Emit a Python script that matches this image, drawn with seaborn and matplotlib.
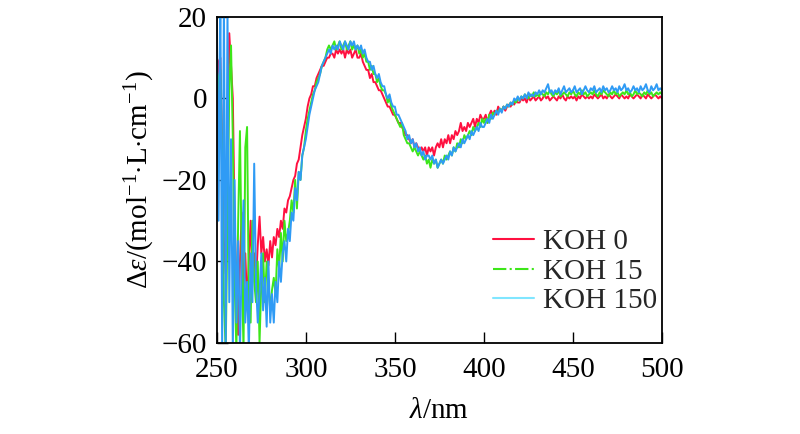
import numpy as np
import pandas as pd
import matplotlib
matplotlib.use("Agg")
import matplotlib.pyplot as plt
from matplotlib.lines import Line2D
import seaborn as sns

wavelength = list(range(250, 501))

koh_0 = [
    -5, 9, 10, -10, -35, -43, -24, 16, 8, 0,
    -30, -45, -58, -40, -28, -48, -38, -50, -40, -30,
    -42, -38, -45, -36, -29, -38, -34, -40, -37, -41,
    -35, -39, -34, -36, -32, -34, -30, -32, -27, -28,
    -25, -24, -22, -20, -19, -16, -15, -12, -9, -7,
    -5, -2, 0, 1, 3, 3, 5, 6, 7, 8,
    8, 9, 10, 10, 11, 11, 10, 12, 11, 12,
    11, 12, 10, 12, 11, 12, 10, 11, 12, 10,
    10, 11, 9, 8, 7, 7, 5, 6, 4, 4,
    3, 2, 2, 1, 0, -1, -2, -2, -3, -4,
    -4, -5, -6, -6, -7, -8, -9, -9, -10, -11,
    -10, -12, -11, -12, -13, -12, -13, -12, -14, -12,
    -13, -12, -14, -12, -11, -12, -10, -12, -10, -11,
    -9, -11, -9, -10, -8, -9, -8, -6, -8, -7,
    -8, -6, -7, -6, -5, -7, -5, -6, -4, -5,
    -5, -4, -6, -4, -3, -4, -3, -4, -2, -3,
    -3, -2, -3, -2, -1.5, -2, -1, -1.5, -0.5, -1,
    -1, 0, -0.5, 0, -1, 0.5, -0.5, 0, 0.5, -0.5,
    0, 0.5, -0.5, 0, 1, 0, 0.5, -0.5, 0, 0.5,
    0, -0.5, 0.5, 0, 1, 0, -0.5, 0.5, 0, 0.5,
    0, 0.5, -0.5, 0.5, 0, 1, 0.5, 0, 0.5, 0,
    0.5, 0, 1, 0.5, 0, 0.5, 1, 0, 0.5, 0,
    1, 0.5, 0, 0.5, 1, 0.5, 0, 1, 0.5, 0,
    0.5, 0, 1, 0.5, 0, 0.5, 1, 0.5, 0, 1,
    0.5, 0, 1, 0.5, 0, 0.5, 1, 0.5, 0, 0.5,
    0,
]

koh_15 = [
    -20, 5, 7, -15, -50, -62, -30, 2, 13, -10,
    -45, -62, -30, -8, -40, -62, -12, -7, -50, -55,
    -30, -45, -50, -40, -60, -45, -38, -50, -40, -45,
    -52, -47, -44, -48, -37, -42, -33, -40, -30, -35,
    -33, -30, -25, -28, -20, -27, -18, -20, -14, -12,
    -8, -5, -3, -1, 1, 2, 4, 5, 6, 8,
    9, 10, 12, 13, 12, 13, 14, 12, 13, 14,
    12, 13, 14, 12, 13, 14, 12, 13, 12, 13,
    11, 12, 10, 11, 9, 9, 7, 8, 6, 6,
    4, 5, 3, 2, 2, 1, -1, 0, -2, -3,
    -4, -5, -6, -7, -6, -9, -10, -11, -11, -12,
    -13, -12, -13, -14, -13, -14, -15, -14, -16, -15,
    -17, -15, -16, -15, -17, -16, -15, -16, -14, -15,
    -14, -13, -14, -12, -13, -11, -12, -10, -11, -9,
    -10, -9, -8, -9, -7, -8, -7, -6, -7, -5,
    -6, -5, -6, -4, -5, -3.5, -4, -3, -3.5, -2.5,
    -3, -2, -2.5, -1.5, -2, -1, -1.5, -0.5, -1, 0,
    -0.5, 0.5, 0, 1, 0.5, 0, 1, 0.5, 1.5, 0.5,
    1, 0.5, 1.5, 1, 0.5, 1.5, 1, 2, 1, 0.5,
    1.5, 1, 2, 0.5, 1, 1.5, 1, 0.5, 1.5, 1,
    2, 1, 0.5, 1.5, 1, 2, 1, 1.5, 0.5, 1,
    1.5, 1, 2, 1, 0.5, 1.5, 1, 2, 1.5, 1,
    0.5, 1.5, 1, 2, 1, 1.5, 0.5, 1, 1.5, 1,
    2, 1, 1.5, 0.5, 1, 2, 1, 1.5, 1, 0.5,
    1.5, 1, 2, 1, 1.5, 0.5, 1, 1.5, 1, 1.5,
    1,
]

koh_150 = [
    25, -30, 25, -62, 25, -62, 22, -50, -10, -62,
    -20, -55, -35, -62, -40, -25, -55, -45, -62, -38,
    -50, -16, -45, -55, -48, -38, -52, -44, -56, -40,
    -55, -48, -55, -45, -50, -40, -45, -38, -35, -40,
    -32, -35, -28, -30, -22, -25, -18, -20, -14, -12,
    -10, -7, -4, -2, 0, 2, 3, 4, 6, 8,
    9, 10, 11, 12, 11, 13, 12, 13, 12, 14,
    13, 12, 14, 13, 12, 14, 13, 14, 12, 13,
    12, 13, 11, 12, 10, 9, 9, 7, 8, 6,
    5, 6, 4, 3, 3, 1, 0, 1, -1, -2,
    -2, -4, -4, -5, -6, -7, -8, -10, -9, -11,
    -10, -12, -11, -13, -12, -14, -13, -15, -14, -14,
    -15, -14, -16, -15, -17, -16, -15, -16, -15, -14,
    -15, -13, -14, -12, -13, -12, -11, -12, -10, -11,
    -10, -9, -10, -8, -9, -8, -7, -8, -6, -7,
    -7, -6, -5, -6, -4, -5, -4, -3, -4, -2.5,
    -3.5, -2, -2.5, -1.5, -2, -1, -1.5, 0, -0.5, 0.5,
    -0.5, 0.5, 0, 1, 0, 1.5, 0.5, 1, 0.5, 1.5,
    1, 2, 1, 2, 1.5, 2.5, 3.5, 1.5, 2, 1,
    2, 1.5, 2.5, 1, 2, 3, 1.5, 2, 2.5, 1.5,
    2, 3, 1.5, 2, 2.5, 1, 2, 3, 2, 1.5,
    2.5, 2, 3, 1.5, 2, 2.5, 1.5, 3, 2, 2.5,
    1.5, 2, 3, 2, 2.5, 1.5, 3, 2, 2.5, 3.5,
    2, 2.5, 1.5, 2, 3, 2, 2.5, 1.5, 3, 2,
    2.5, 3.5, 2, 1.5, 3, 2, 2.5, 3.5, 2, 2.5,
    2,
]

series_names = ["KOH 0", "KOH 15", "KOH 150"]
line_colors = ["#ff1040", "#3de619", "#2f9bf5"]
legend_colors = ["#ff1040", "#3de619", "#80e6ff"]
legend_styles = ["-", "-.", "-"]

sns.set_theme(style="white")
plt.rcParams["font.family"] = ["Liberation Serif", "DejaVu Serif"]
plt.rcParams["mathtext.fontset"] = "custom"
plt.rcParams["mathtext.rm"] = "Liberation Serif"
plt.rcParams["mathtext.it"] = "Liberation Serif:italic"
plt.rcParams["mathtext.bf"] = "Liberation Serif:bold"

FS = 21

fig = plt.figure(figsize=(8, 4.34), dpi=100)
ax = fig.add_axes([0.271, 0.2097, 0.5565, 0.7513])

for name, vals, col in zip(series_names, [koh_0, koh_15, koh_150], line_colors):
    df = pd.DataFrame({"wavelength": wavelength, "value": vals})
    sns.lineplot(data=df, x="wavelength", y="value", ax=ax, color=col,
                 linewidth=1.4, estimator=None, sort=False, legend=False)

ax.set_xlim(250, 500)
ax.set_ylim(-60, 20)
ax.set_xticks([250, 300, 350, 400, 450, 500])
ax.set_yticks([-60, -40, -20, 0, 20])
ax.tick_params(axis="both", which="both", direction="in", length=8, width=1,
               labelsize=FS, color="black", labelcolor="black",
               top=False, right=False, left=True, bottom=True)
ax.tick_params(axis="x", pad=10)
ax.tick_params(axis="y", pad=7)
for sp in ax.spines.values():
    sp.set_visible(True)
    sp.set_color("black")
    sp.set_linewidth(1.3)

ax.set_xlabel(r"$\lambda$/nm", fontsize=FS, color="black", labelpad=11)
ax.set_ylabel(r"$\Delta\varepsilon$/(mol$^{-1}$$\cdot$L$\cdot$cm$^{-1}$)",
              fontsize=FS, color="black", labelpad=3)

handles = [Line2D([0], [0], color=c, linestyle=s, linewidth=1.5)
           for c, s in zip(legend_colors, legend_styles)]
ax.legend(handles, series_names, loc="lower right", bbox_to_anchor=(1.034, 0.026),
          frameon=False, fontsize=FS, handlelength=1.4, handletextpad=0.3,
          labelspacing=0.1, borderpad=0.2)

fig.savefig("out.png", dpi=100)
